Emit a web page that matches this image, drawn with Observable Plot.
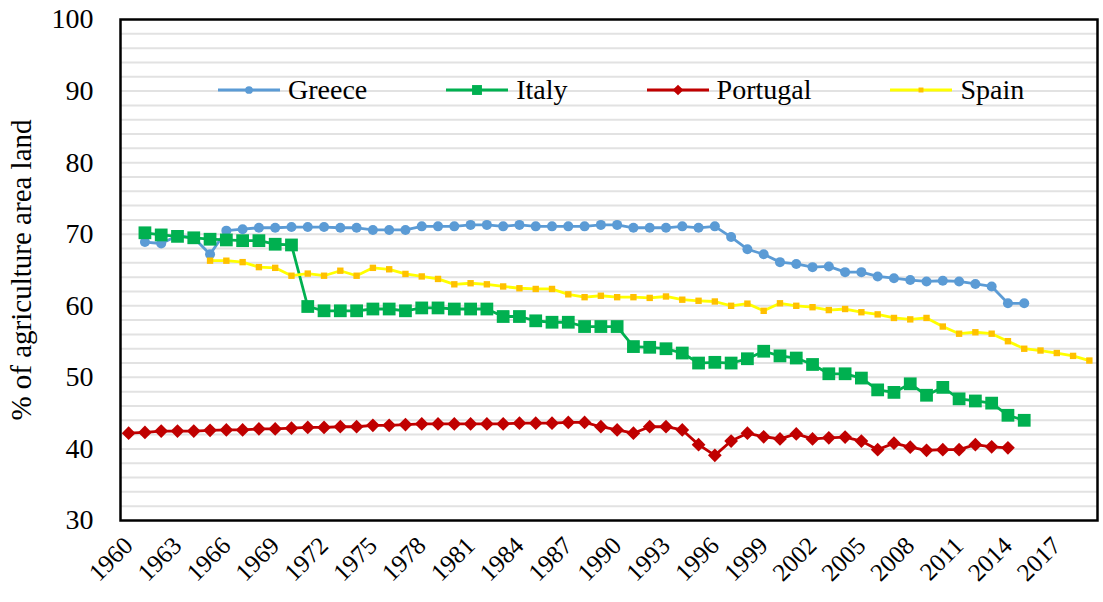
<!DOCTYPE html>
<html>
<head>
<meta charset="utf-8">
<script src="https://cdn.jsdelivr.net/npm/d3@7"></script>
<script src="https://cdn.jsdelivr.net/npm/@observablehq/plot@0.6"></script>
<style>
  html, body { margin: 0; padding: 0; background: #fff; }
  #wrap { position: relative; width: 1103px; height: 602px; }
  #legend { position: absolute; top: 74px; left: 218px; display: flex; align-items: center;
            font-family: "Liberation Serif", "Times New Roman", serif; font-size: 28px; line-height: 32px; color: #000; }
  .item { display: flex; align-items: center; margin-right: 79px; }
  .item svg { margin-right: 8px; }
</style>
</head>
<body>
<div id="wrap"><div id="legend"></div></div>
<script>
// Categories
const xTicks = [1960,1963,1966,1969,1972,1975,1978,1981,1984,1987,1990,1993,1996,1999,2002,2005,2008,2011,2014,2017];
const yTicks = [30,40,50,60,70,80,90,100];
const countries = ["Greece","Italy","Portugal","Spain"];

// Series (first year, then yearly values)
const greeceStart = 1961;
const greece = [68.9,68.7,69.8,69.5,67.2,70.5,70.7,70.9,70.9,71.0,
  71.0,71.0,70.9,70.9,70.6,70.6,70.6,71.1,71.1,71.1,
  71.3,71.3,71.1,71.3,71.1,71.1,71.1,71.1,71.3,71.3,
  70.9,70.9,70.9,71.1,70.9,71.1,69.6,67.9,67.2,66.1,
  65.85,65.4,65.5,64.7,64.7,64.1,63.85,63.6,63.4,63.5,
  63.4,63.05,62.7,60.35,60.35];

const italyStart = 1961;
const italy = [70.2,69.9,69.7,69.5,69.3,69.2,69.1,69.1,68.6,68.5,
  59.9,59.3,59.3,59.3,59.55,59.55,59.3,59.7,59.7,59.55,
  59.55,59.55,58.5,58.5,57.9,57.7,57.7,57.1,57.1,57.1,
  54.3,54.2,54.0,53.4,52.0,52.1,52.0,52.6,53.65,53.0,
  52.7,51.8,50.5,50.5,49.9,48.25,47.9,49.1,47.5,48.6,
  47.0,46.7,46.4,44.7,44.0];

const portugalStart = 1960;
const portugal = [42.2,42.3,42.5,42.5,42.5,42.6,42.65,42.65,42.8,42.8,
  42.9,43.0,43.0,43.1,43.1,43.3,43.3,43.4,43.5,43.5,
  43.5,43.5,43.5,43.5,43.6,43.6,43.6,43.7,43.7,43.1,
  42.65,42.2,43.1,43.1,42.65,40.6,39.1,41.1,42.2,41.7,
  41.4,42.1,41.4,41.55,41.65,41.1,39.9,40.8,40.25,39.8,
  39.9,39.9,40.6,40.3,40.15];

const spainStart = 1965;
const spain = [66.3,66.3,66.1,65.4,65.3,
  64.2,64.5,64.2,64.9,64.2,65.3,65.1,64.45,64.1,63.75,
  63.0,63.15,63.0,62.7,62.45,62.35,62.35,61.6,61.2,61.4,
  61.2,61.2,61.1,61.3,60.85,60.7,60.6,60.0,60.3,59.3,
  60.35,60.0,59.8,59.4,59.55,59.1,58.8,58.3,58.1,58.3,
  57.1,56.1,56.3,56.1,55.05,54.0,53.75,53.4,53.0,52.35];

const toRows = (name, start, vals) => vals.map((v, i) => ({country: name, year: start + i, value: v}));
const rows = {
  Greece: toRows("Greece", greeceStart, greece),
  Italy: toRows("Italy", italyStart, italy),
  Portugal: toRows("Portugal", portugalStart, portugal),
  Spain: toRows("Spain", spainStart, spain)
};

const styles = {
  Greece:   {line: "#5B9BD5", fill: "#5B9BD5", symbol: "circle", r: 5},
  Italy:    {line: "#00B050", fill: "#00B050", symbol: "square", r: 7.2},
  Portugal: {line: "#C00000", fill: "#C00000", symbol: d3.symbolDiamond2, r: 6.2},
  Spain:    {line: "#FFFF00", fill: "#FFC000", symbol: "square", r: 3.6}
};

const seriesMarks = [];
for (const c of countries) {
  const s = styles[c];
  seriesMarks.push(Plot.line(rows[c], {x: "year", y: "value", stroke: s.line, strokeWidth: 2.8}));
}
for (const c of countries) {
  const s = styles[c];
  seriesMarks.push(Plot.dot(rows[c], {x: "year", y: "value", fill: s.fill, stroke: "none", symbol: s.symbol, r: s.r}));
}

const serif = "Liberation Serif, Times New Roman, serif";
const chart = Plot.plot({
  width: 1103,
  height: 602,
  marginLeft: 120,
  marginRight: 6,
  marginTop: 19,
  marginBottom: 82,
  style: {fontFamily: serif, background: "transparent", overflow: "visible"},
  x: {type: "linear", domain: [1959.5, 2019.5]},
  y: {domain: [30, 100]},
  marks: [
    Plot.gridY(d3.range(32, 100, 2), {stroke: "#e2e2e2", strokeOpacity: 1, strokeWidth: 2}),
    ...seriesMarks,
    Plot.frame({stroke: "black", strokeWidth: 2.5}),
    Plot.axisY({ticks: yTicks, tickSize: 0, tickPadding: 27, fontSize: 28, label: null, fontFamily: serif}),
    Plot.axisY({ticks: [], tickSize: 0, label: "% of agriculture area land", labelAnchor: "center", labelArrow: "none", labelOffset: 110, fontSize: 29, fontFamily: serif}),
    Plot.axisX({ticks: xTicks, tickFormat: d => String(d), tickSize: 0, tickPadding: 21, tickRotate: -45, fontSize: 25, label: null, fontFamily: serif})
  ]
});
const wrap = document.getElementById("wrap");
wrap.insertBefore(chart, wrap.firstChild);

// Legend
const legend = document.getElementById("legend");
for (const c of countries) {
  const s = styles[c];
  const item = document.createElement("div");
  item.className = "item";
  const sym = d3.symbol(typeof s.symbol === "string" ? (s.symbol === "circle" ? d3.symbolCircle : d3.symbolSquare) : s.symbol, Math.PI * s.r * s.r * 0.6);
  item.innerHTML = `<svg width="62" height="20"><line x1="0" y1="10" x2="62" y2="10" stroke="${s.line}" stroke-width="2.8"/><path transform="translate(31,10)" d="${sym()}" fill="${s.fill}"/></svg><span>${c}</span>`;
  legend.appendChild(item);
}
</script>
</body>
</html>
